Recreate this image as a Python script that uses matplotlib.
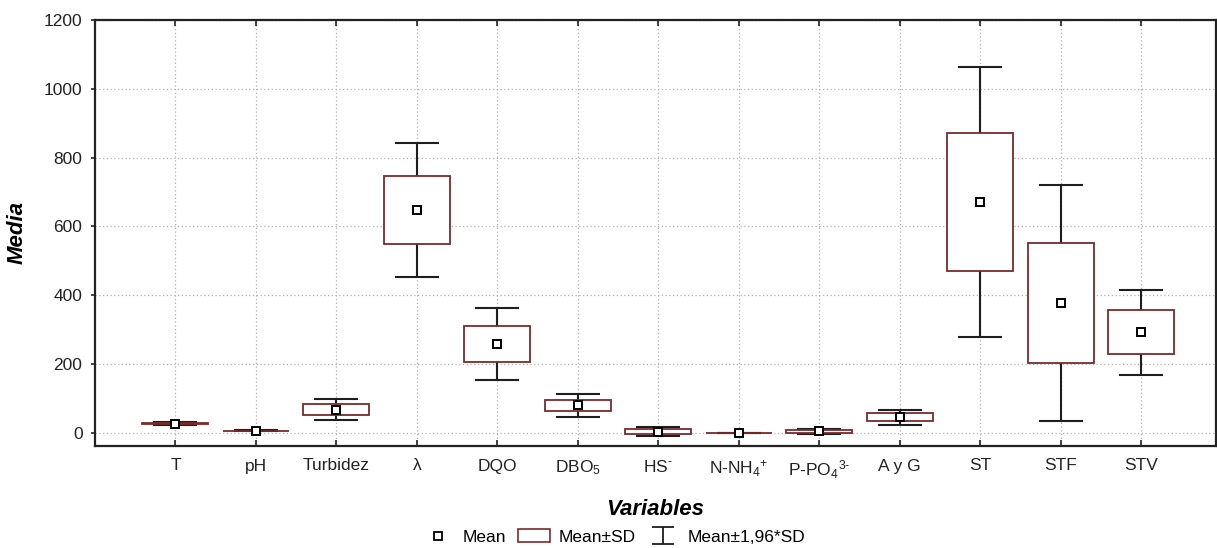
import numpy as np
import matplotlib
matplotlib.use("Agg")
import matplotlib.pyplot as plt
from matplotlib.patches import Patch
from matplotlib.lines import Line2D

plt.rcParams['font.family'] = ['Liberation Sans', 'DejaVu Sans']
plt.rcParams['mathtext.fontset'] = 'custom'
plt.rcParams['mathtext.rm'] = 'Liberation Sans'
plt.rcParams['mathtext.it'] = 'Liberation Sans:italic'
plt.rcParams['mathtext.bf'] = 'Liberation Sans:bold'
plt.rcParams['mathtext.default'] = 'regular'

# values
variables = ['T', 'pH', 'Turbidez', 'λ', 'DQO', r'DBO$_5$', r'HS$^{\text{-}}$',
             r'N-NH$_4$$^{+}$', r'P-PO$_4$$^{\text{3-}}$', 'A y G', 'ST', 'STF', 'STV']
means = [27, 6, 68, 648, 258, 80, 4, 0, 5, 46, 672, 378, 293]
sds = [2, 0.7, 16, 100, 53, 17, 7, 0.5, 4, 11, 200, 175, 63]

box_edge = '#7a2a2a'
whisk_col = '#1e1e1e'

means = np.array(means, dtype=float)
sds = np.array(sds, dtype=float)
pos = np.arange(1, len(variables) + 1)
k = 1.96

fig = plt.figure(figsize=(12.17, 5.48), dpi=100)
ax = fig.add_axes([95 / 1217, 102 / 548, 1121 / 1217, 426 / 548])

# whiskers (Mean +/- 1.96*SD)
ax.errorbar(pos, means, yerr=k * sds, fmt='none', ecolor=whisk_col,
            elinewidth=1.5, capsize=16, capthick=1.5, zorder=2)
# boxes (Mean +/- SD)
ax.bar(pos, 2 * sds, bottom=means - sds, width=0.82, facecolor='white',
       edgecolor=box_edge, linewidth=1.3, zorder=3)
# mean markers
ax.plot(pos, means, 's', ms=6, mfc='white', mec='black', mew=1.4,
        zorder=4, linestyle='none')

# proxy for the legend symbol (outside the view)
eb_proxy = ax.errorbar([-5], [0], yerr=[1], fmt='none', ecolor=whisk_col,
                       elinewidth=1.3, capsize=8, capthick=1.3)

ax.set_xlim(0.0, 13.93)
ax.set_ylim(-38, 1200)
ax.set_yticks(np.arange(0, 1201, 200))
ax.set_xticks(pos)
ax.set_xticklabels(variables)

ax.set_axisbelow(True)
ax.grid(True, linestyle=(0, (1, 2)), color='#b0b0b0', linewidth=0.9)

for s in ax.spines.values():
    s.set_linewidth(1.6)
    s.set_color('#222222')

ax.tick_params(axis='x', direction='in', length=4, width=1.2, top=True,
               labelsize=12.5, pad=9, colors='#222222')
ax.tick_params(axis='y', direction='out', length=3, width=1.2,
               labelsize=12.5, pad=6, colors='#222222')

ax.set_xlabel('Variables', fontsize=16, fontweight='bold', style='italic',
              labelpad=13)
ax.set_ylabel('Media', fontsize=16, fontweight='bold', style='italic')
ax.yaxis.set_label_coords((28 - 95) / 1121, 0.5)

h_mean = Line2D([], [], marker='s', ms=6, mfc='white', mec='black', mew=1.3,
                linestyle='none')
h_box = Patch(facecolor='white', edgecolor=box_edge, linewidth=1.2)
fig.legend([h_mean, h_box, eb_proxy], ['Mean', 'Mean±SD', 'Mean±1,96*SD'],
           loc='center', bbox_to_anchor=(614 / 1217, 11 / 548), ncol=3,
           frameon=False, fontsize=12.5, handlelength=1.8, handletextpad=0.5,
           columnspacing=0.7, borderaxespad=0)

fig.savefig('out.png', dpi=100)
